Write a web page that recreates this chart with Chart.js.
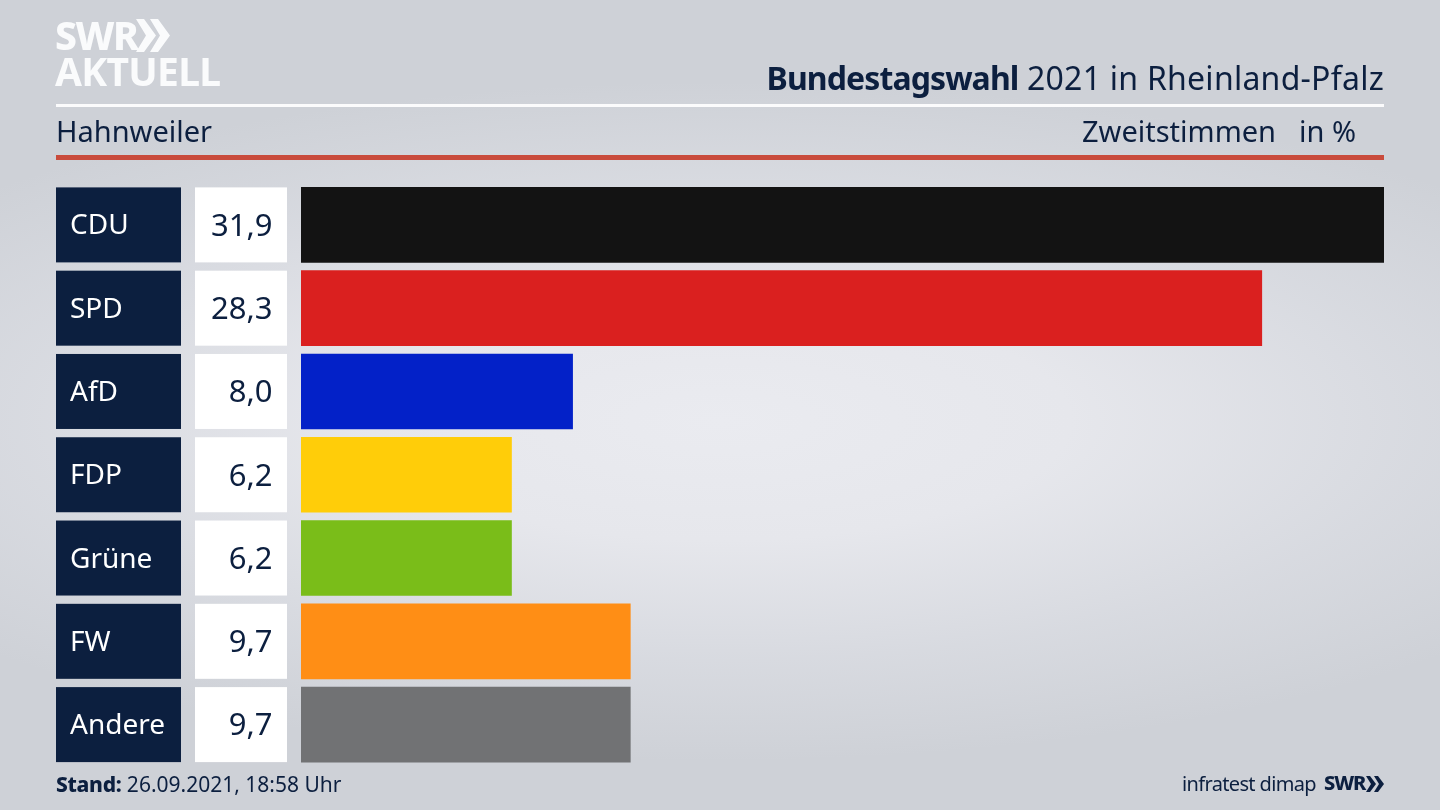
<!DOCTYPE html>
<html lang="de"><head><meta charset="utf-8">
<script src="https://cdn.jsdelivr.net/npm/chart.js@4"></script>
<style>
html,body{margin:0;padding:0}
body{width:1440px;height:810px;overflow:hidden;position:relative;font-family:"Noto Sans",sans-serif;color:#0c1f3f;
background:radial-gradient(ellipse 1000px 340px at 50% 52%,#eaebf0 0%,#e6e7ec 35%,rgba(220,222,228,.7) 70%,rgba(206,209,215,0) 100%),#ced1d7}
#c{position:absolute;left:0;top:0;width:1440px;height:810px}
.t{position:absolute;white-space:nowrap;line-height:1}
.r{position:absolute;left:56px;width:1328px}
svg{position:absolute}
</style></head><body>
<canvas id="c" width="1440" height="810"></canvas>
<div class="t" style="left:55px;top:15px;font-size:39px;font-weight:800;color:#fafbfc;letter-spacing:-1.5px">SWR</div>
<svg style="left:136px;top:19px" width="36" height="33" viewBox="0 0 36 33"><path d="M0 0 L8 0 L20 16.5 L8 33 L0 33 L10 16.5Z M14 0 L22 0 L34 16.5 L22 33 L14 33 L24 16.5Z" fill="#fafbfc"/></svg>
<div class="t" style="left:55px;top:51px;font-size:39px;font-weight:700;color:#fafbfc;letter-spacing:-.7px">AKTUELL</div>
<div class="t" style="right:56px;top:62px;font-size:32px;letter-spacing:.25px"><b style="font-weight:700;letter-spacing:-.9px">Bundestagswahl</b> 2021 in Rheinland-Pfalz</div>
<div class="r" style="top:104px;height:3px;background:#fbfbfc"></div>
<div class="t" style="left:56px;top:116px;font-size:29px">Hahnweiler</div>
<div class="t" style="left:1082px;top:116px;font-size:29px">Zweitstimmen</div>
<div class="t" style="left:1299px;top:116px;font-size:29px">in %</div>
<div class="r" style="top:155px;height:5px;background:#c94b3c"></div>
<div class="t" style="left:56px;top:774px;font-size:21px"><b style="font-weight:800;letter-spacing:-.3px">Stand:</b> 26.09.2021, 18:58 Uhr</div>
<div class="t" style="left:1182px;top:774px;font-size:20px;letter-spacing:-.65px">infratest dimap</div>
<div class="t" style="left:1324px;top:773px;font-size:20px;font-weight:800;letter-spacing:-1.1px">SWR</div>
<svg style="left:1366px;top:776px" width="18" height="16" viewBox="0 0 18 16"><path d="M0 0 L4 0 L10 8 L4 16 L0 16 L5 8Z M8 0 L12 0 L18 8 L12 16 L8 16 L13 8Z" fill="#0c1f3f"/></svg>
<script>
const categories=["CDU","SPD","AfD","FDP","Grüne","FW","Andere"];
const values=[31.9,28.3,8.0,6.2,6.2,9.7,9.7];
const barColors=["#131313","#da201f","#0321c8","#ffcd09","#7abd19","#ff8e15","#717274"];
const font='"Noto Sans",sans-serif';
const boxes={id:"boxes",beforeDraw(ch){
 const g=ch.ctx,y=ch.scales.y;g.save();
 values.forEach((v,i)=>{
  const cy=y.getPixelForValue(i);
  g.fillStyle="#0c1f3f";g.fillRect(56,cy-37.5,125,75);
  g.fillStyle="#ffffff";g.fillRect(195,cy-37.5,92,75);
  g.fillStyle="#0c1f3f";g.font='31px '+font;g.textAlign="right";g.textBaseline="middle";
  g.fillText(v.toFixed(1).replace(".",","),272.5,cy+2);
 });g.restore();}};
new Chart(document.getElementById("c"),{
 type:"bar",
 data:{labels:categories,datasets:[{data:values,backgroundColor:barColors,barThickness:75,borderWidth:0}]},
 plugins:[boxes],
 options:{indexAxis:"y",responsive:false,animation:false,devicePixelRatio:1,
  layout:{padding:{left:70,right:56,top:183.25,bottom:43.75}},
  plugins:{legend:{display:false},tooltip:{enabled:false},title:{display:false}},
  scales:{
   x:{display:false,min:0,max:31.9},
   y:{afterFit(s){s.width=231;},border:{display:false},grid:{display:false},
      ticks:{color:"#ffffff",crossAlign:"far",padding:0,labelOffset:1.5,font:{family:font,size:28}}}
  }}
});
</script>
</body></html>
